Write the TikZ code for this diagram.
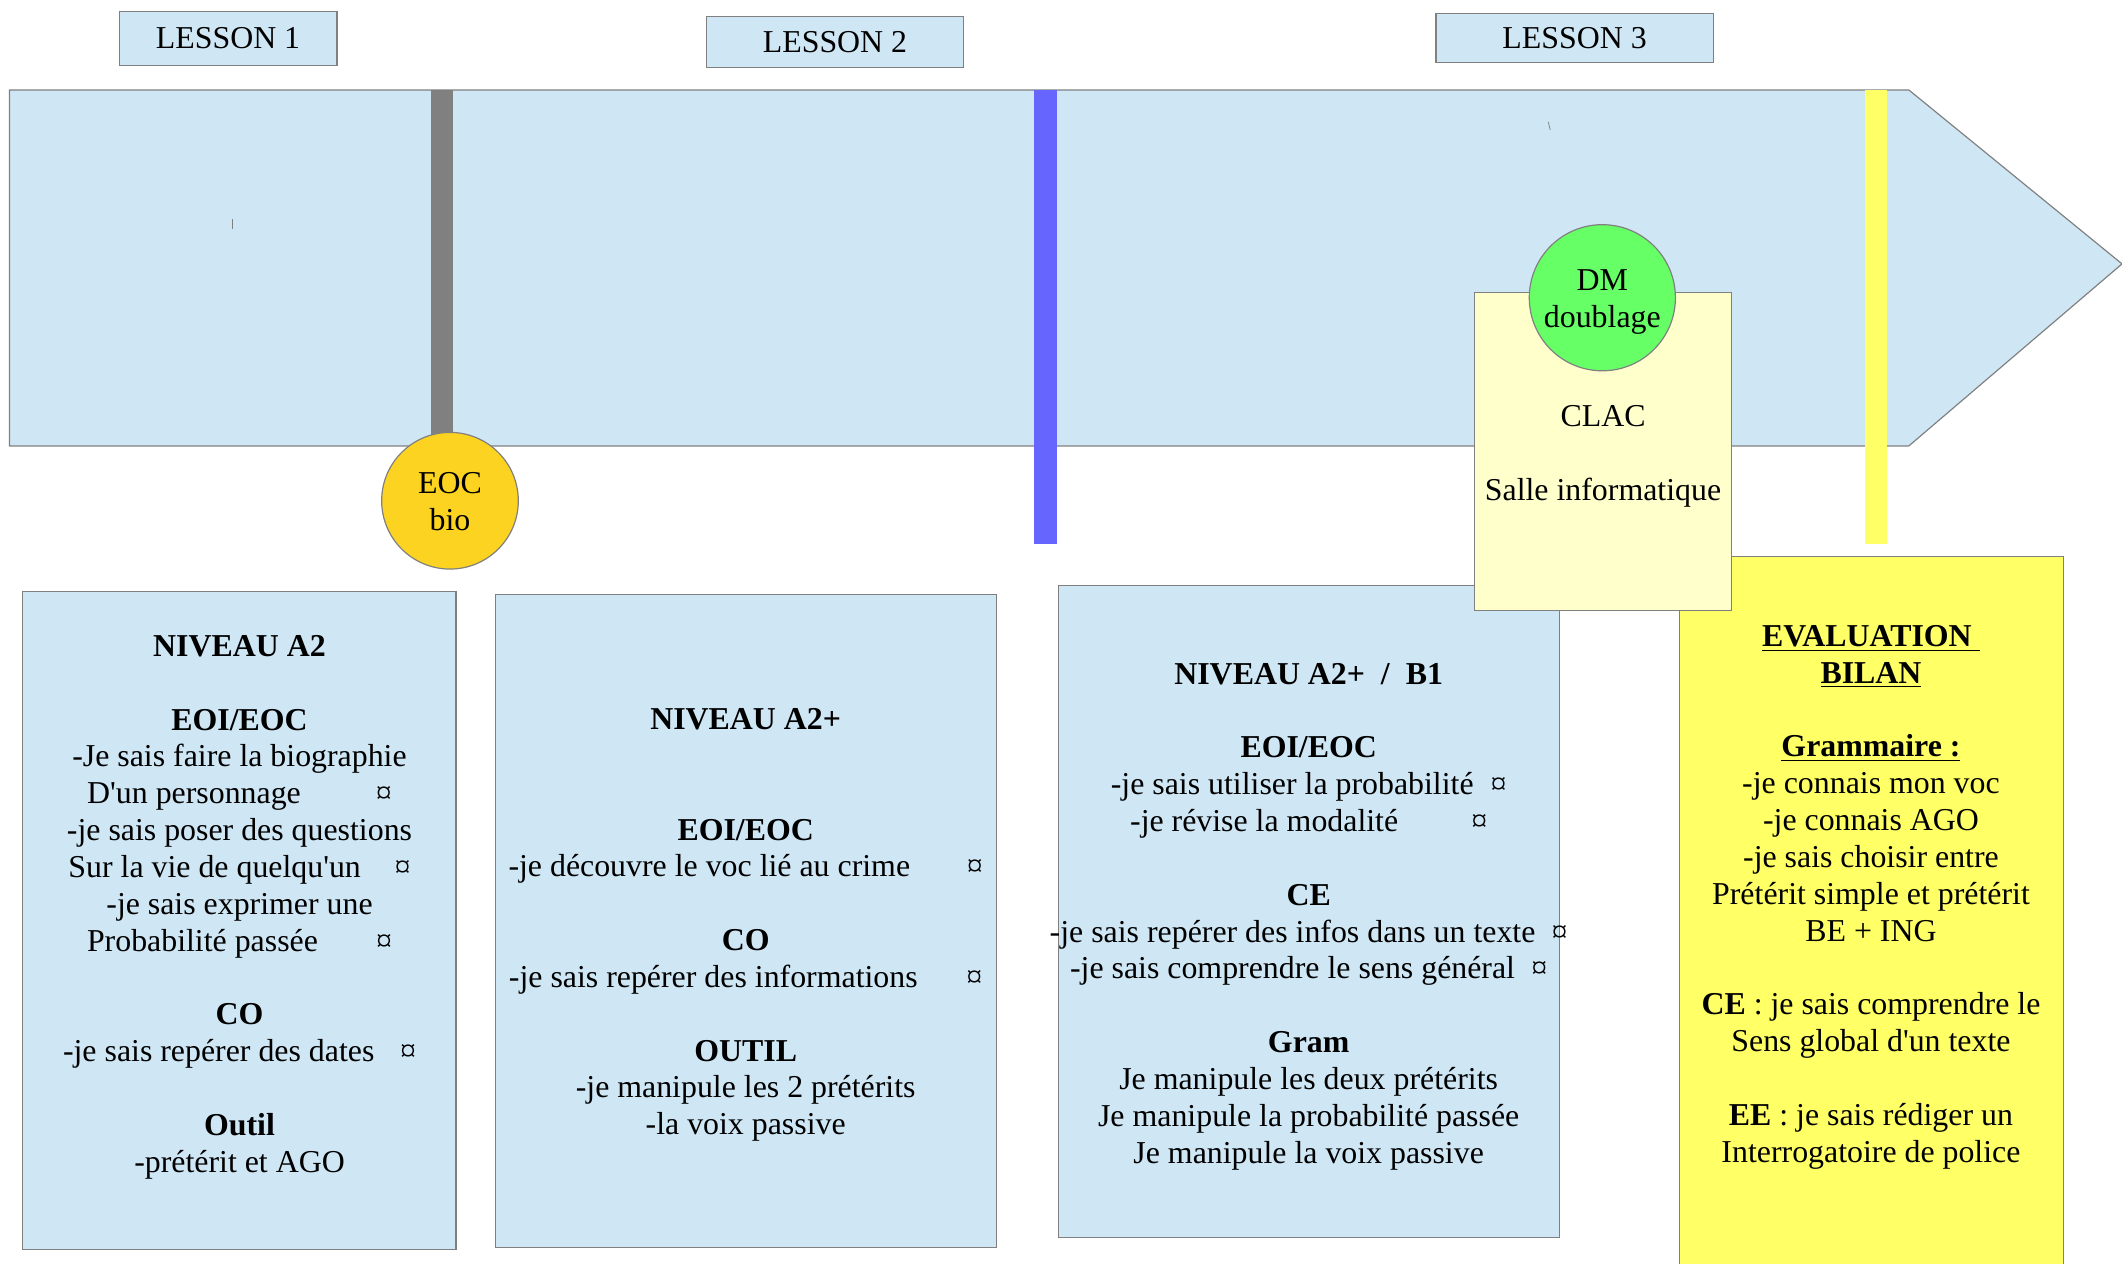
\documentclass[tikz,border=0pt]{standalone}
\usepackage{fontspec}
\setmainfont{Liberation Serif}

\definecolor{skyfill}{RGB}{207,231,245}
\definecolor{edgegray}{RGB}{128,128,128}
\definecolor{barblue}{RGB}{102,102,255}
\definecolor{baryellow}{RGB}{255,255,102}
\definecolor{eocgold}{RGB}{252,211,32}
\definecolor{dmgreen}{RGB}{102,255,102}
\definecolor{clacfill}{RGB}{255,255,204}

\newcommand{\cardlines}[1]{\begin{tabular}[t]{@{}c@{}}#1\end{tabular}}

\begin{document}
\begin{tikzpicture}[x=0.02cm, y=-0.02cm,
    frame/.style={draw=edgegray, line width=0.5pt},
    lessonbox/.style={frame, fill=skyfill, inner sep=0pt, font=\fontsize{13.4}{15.5}\selectfont},
    cardtext/.style={anchor=base, inner sep=0pt, font=\fontsize{13.4}{15.5}\selectfont},
    badge/.style={frame, circle, inner sep=0pt, align=center, font=\fontsize{13.4}{15.5}\selectfont}]

        \useasboundingbox (0,0) rectangle (1568,933.3);

        % Timeline arrow
        \draw[frame, fill=skyfill] (7,66.5) -- (1410.5,66.5) -- (1568,195) -- (1410.5,329.5) -- (7,329.5) -- cycle;
        \draw[edgegray, line width=0.3pt] (172,162) -- (172,169); % stray mark
        \draw[edgegray, line width=0.3pt] (1144,90) -- (1145.5,96); % stray mark

        % Lesson labels
        \node[lessonbox, minimum width=3.22cm, minimum height=0.8cm] (lesson1) at (168.5,28.5) {LESSON 1};
        \node[lessonbox, minimum width=3.8cm, minimum height=0.76cm] (lesson2) at (617,31) {LESSON 2};
        \node[lessonbox, minimum width=4.1cm, minimum height=0.72cm] (lesson3) at (1163.5,28) {LESSON 3};

        % Separators
        \fill[edgegray] (318.5,66.5) rectangle (335,330);
        \fill[barblue] (764,66.5) rectangle (781,402);
        \fill[baryellow] (1378,66.5) rectangle (1394.5,402);

        % Oral task
        \node[badge, fill=eocgold, minimum size=2.02cm] (eoc) at (332.5,370) {};
        \node[cardtext] (eoctext) at (332.5,365) {\cardlines{EOC\\bio}};

        % Lesson 1 card
        \draw[frame, fill=skyfill] (16.5,437) rectangle (337,923.5);
        \node[cardtext] (levela2) at (177,485) {\cardlines{
            \textbf{NIVEAU A2}\\
            \\
            \textbf{EOI/EOC}\\
            -Je sais faire la biographie\\
            D\textquotesingle un personnage\hspace{1.11cm}¤\\
            -je sais poser des questions\\
            Sur la vie de quelqu\textquotesingle un\hspace{0.5cm}¤\\
            -je sais exprimer une\\
            Probabilité passée\hspace{0.86cm}¤\\
            \\
            \textbf{CO}\\
            -je sais repérer des dates\hspace{0.38cm}¤\\
            \\
            \textbf{Outil}\\
            -prétérit et AGO}};

        % Lesson 2 card
        \draw[frame, fill=skyfill] (366,439) rectangle (736.5,921.5);
        \node[cardtext] (levela2plus) at (551,539) {\cardlines{
            \textbf{NIVEAU A2+}\\
            \\
            \\
            \textbf{EOI/EOC}\\
            -je découvre le voc lié au crime\hspace{0.84cm}¤\\
            \\
            \textbf{CO}\\
            -je sais repérer des informations\hspace{0.72cm}¤\\
            \\
            \textbf{OUTIL}\\
            -je manipule les 2 prétérits\\
            -la voix passive}};

        % Lesson 3 card
        \draw[frame, fill=skyfill] (782,432.5) rectangle (1152.5,914.5);
        \node[cardtext] (levelb1) at (967,505.5) {\cardlines{
            \textbf{NIVEAU A2+\ \ /\ \ B1}\\
            \\
            \textbf{EOI/EOC}\\
            -je sais utiliser la probabilité\hspace{0.25cm}¤\\
            -je révise la modalité\hspace{1.08cm}¤\\
            \\
            \textbf{CE}\\
            -je sais repérer des infos dans un texte\hspace{0.24cm}¤\\
            -je sais comprendre le sens général\hspace{0.24cm}¤\\
            \\
            \textbf{Gram}\\
            Je manipule les deux prétérits\\
            Je manipule la probabilité passée\\
            Je manipule la voix passive}};

        % Final test card
        \draw[frame, fill=baryellow] (1241,411) rectangle (1524.5,940);
        \node[cardtext] (bilan) at (1382.5,477.5) {\cardlines{
            \underline{\textbf{EVALUATION\ }}\\
            \underline{\textbf{BILAN}}\\
            \\
            \underline{\textbf{Grammaire :}}\\
            -je connais mon voc\\
            -je connais AGO\\
            -je sais choisir entre\\
            Prétérit simple et prétérit\\
            BE + ING\\
            \\
            \textbf{CE} : je sais comprendre le\\
            Sens global d\textquotesingle un texte\\
            \\
            \textbf{EE} : je sais rédiger un\\
            Interrogatoire de police}};

        % Computer room
        \draw[frame, fill=clacfill] (1089.5,216) rectangle (1279.5,451);
        \node[cardtext] (clac) at (1184.5,315) {\cardlines{CLAC\\ \\Salle informatique}};
        \node[badge, fill=dmgreen, minimum size=2.16cm] (dm) at (1184,220) {};
        \node[cardtext] (dmtext) at (1184,215) {\cardlines{DM\\doublage}};
    \end{tikzpicture}
\end{document}
